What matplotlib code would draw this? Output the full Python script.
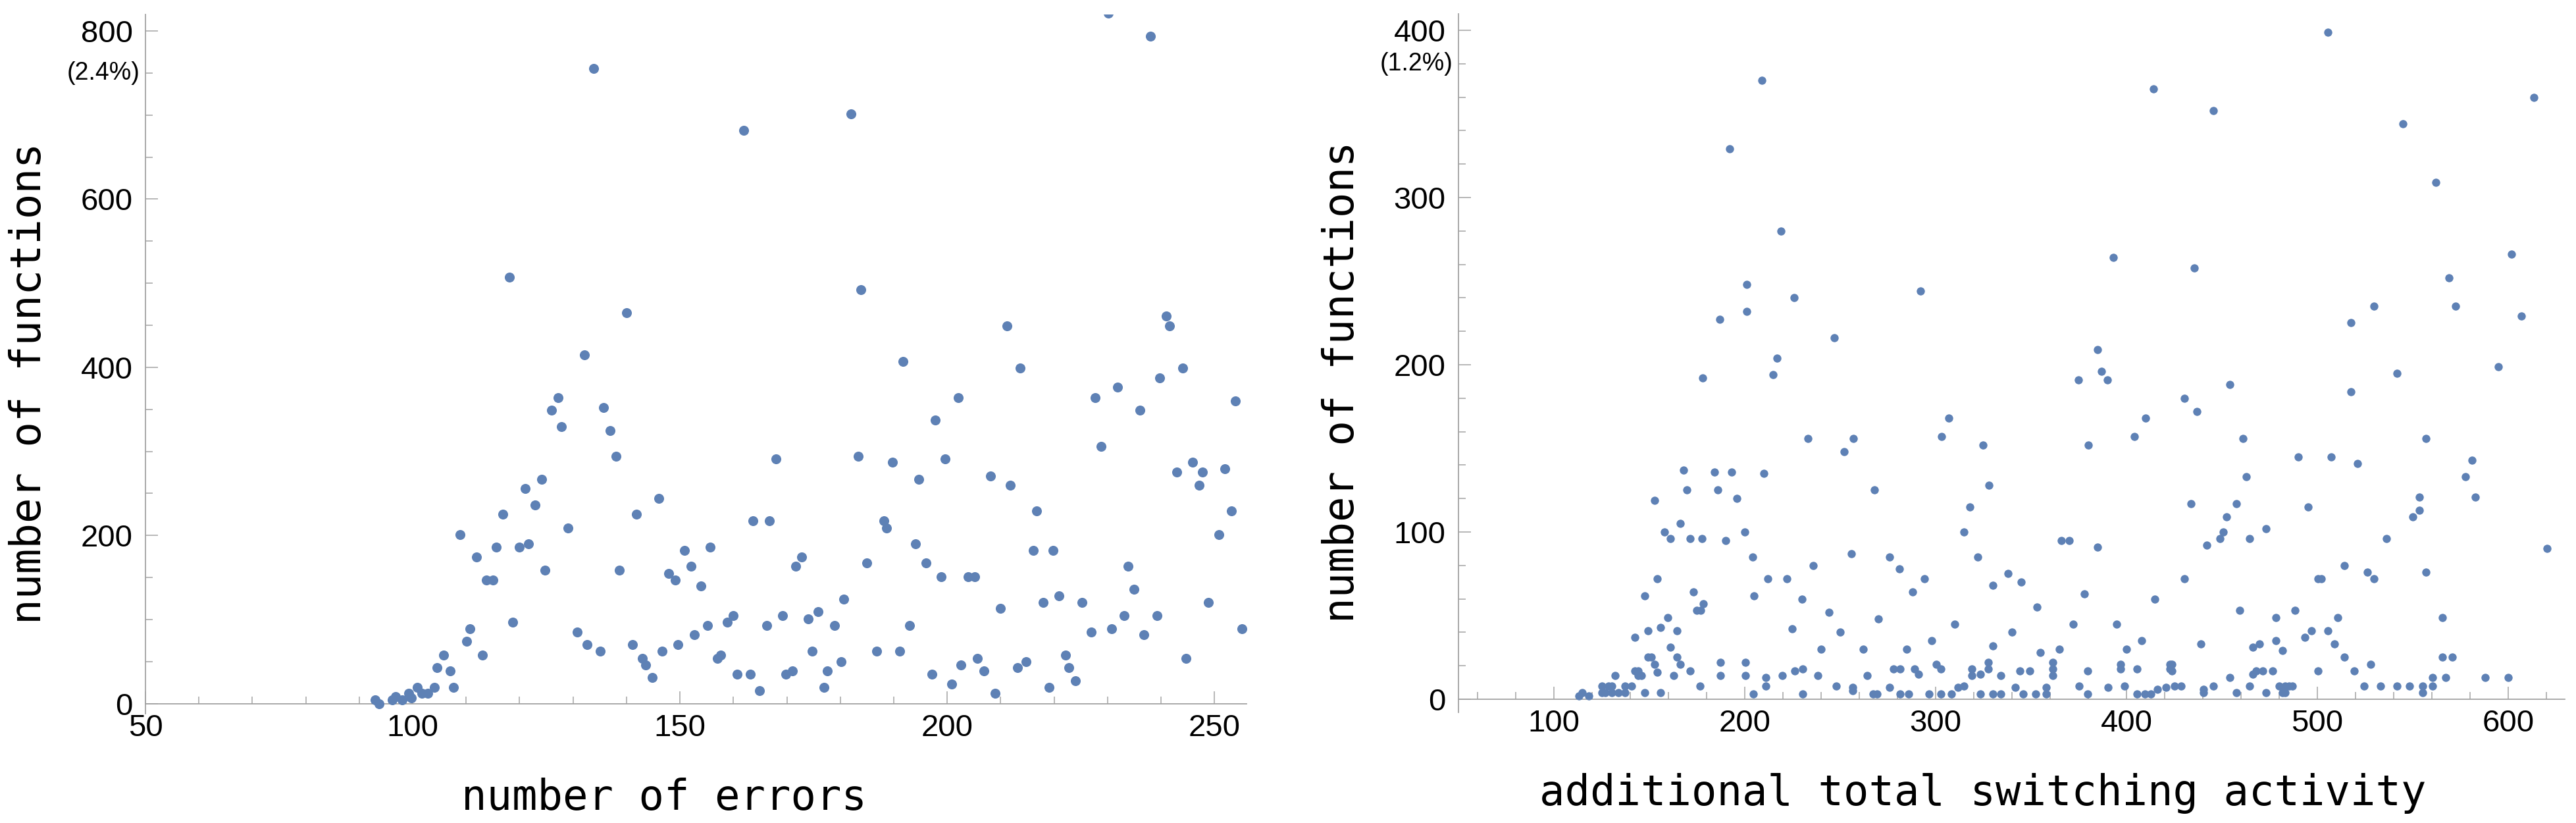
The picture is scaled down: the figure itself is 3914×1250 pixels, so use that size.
import matplotlib
matplotlib.use("Agg")
import matplotlib.pyplot as plt
from matplotlib.ticker import MultipleLocator
from matplotlib.transforms import ScaledTranslation

# ------------------------
# Data
# ------------------------
# left panel: number of errors vs number of functions
err_x = [133.9, 161.9, 182.0, 118.1, 140.0, 132.1, 183.8, 230.2, 238.0, 211.2, 241.0, 241.6, 191.7, 213.7, 244.0,
         239.8, 231.9, 202.1, 227.7, 253.9, 236.1, 197.8, 228.8, 183.3, 189.8, 199.6, 194.7, 208.1, 211.8, 245.9,
         242.9, 247.7, 247.1, 252.0, 216.7, 253.2, 188.1, 188.7, 250.8, 194.1, 216.1, 219.8, 185.0, 196.0, 233.8,
         198.9, 203.9, 205.1, 234.9, 220.9, 217.9, 225.2, 248.9, 210.0, 233.1, 239.2, 192.9, 230.7, 255.1, 227.0,
         236.8, 186.8, 191.1, 222.2, 244.7, 214.8, 205.7, 202.6, 213.1, 222.8, 206.9, 197.2, 224.0, 200.9, 219.1,
         209.0,
         127.2, 126.0, 127.8, 135.7, 136.9, 138.1, 124.1, 121.1, 122.9, 116.9, 129.0, 108.9, 168.0, 146.0, 141.8,
         163.7, 166.7, 115.6, 119.9, 121.7, 111.9, 124.7, 138.7, 150.9, 155.7, 152.1, 147.9, 149.1, 153.9, 113.8,
         115.0, 171.6, 172.8, 180.7, 118.7, 110.7, 110.1, 113.1, 105.8, 104.6, 107.0, 107.6, 104.0, 102.8, 130.8,
         132.6, 135.1, 141.1, 143.0, 143.6, 144.8, 146.6, 149.6, 152.7, 155.2, 157.0, 157.6, 158.8, 160.0, 160.7,
         163.1, 164.9, 166.2, 169.2, 169.8, 171.0, 174.0, 174.7, 175.9, 177.0, 177.6, 178.9, 180.1,
         93.0, 93.7, 96.2, 96.8, 98.0, 99.2, 99.8, 100.9, 101.7]
err_y = [755, 682, 701, 507, 465, 415, 492, 821, 794, 449, 461, 449, 407, 399, 399,
         387, 376, 364, 364, 360, 349, 337, 306, 294, 287, 291, 267, 271, 260, 287,
         275, 275, 260, 279, 229, 229, 217, 209, 201, 190, 182, 182, 167, 167, 163,
         151, 151, 151, 136, 128, 120, 120, 120, 113, 105, 105, 93, 89, 89, 85,
         82, 62, 62, 58, 54, 50, 54, 46, 43, 43, 39, 35, 27, 23, 19,
         12,
         364, 349, 329, 352, 325, 294, 267, 256, 236, 225, 209, 201, 291, 244, 225,
         217, 217, 186, 186, 190, 174, 159, 159, 182, 186, 163, 155, 147, 140, 147,
         147, 163, 174, 124, 97, 89, 74, 58, 58, 43, 39, 19, 19, 12, 85,
         70, 62, 70, 54, 46, 31, 62, 70, 82, 93, 54, 58, 97, 105, 35,
         35, 15, 93, 105, 35, 39, 101, 62, 109, 19, 39, 93, 50,
         4, 0, 4, 8, 4, 12, 7, 19, 12]

# right panel: additional total switching activity vs number of functions
sw_x = [505.6, 445.6, 613.6, 545.0, 562.2, 435.4, 601.6, 569.1, 529.7, 572.4, 606.8, 517.6, 541.7, 594.7, 454.3,
        430.3, 517.6,
        437.0, 461.1, 557.0, 490.2, 507.4, 521.0, 581.0, 462.8, 577.6, 433.7, 457.7, 553.6, 582.7, 495.3,
        553.6, 550.2, 452.4, 473.2, 450.8, 449.0, 464.6, 442.1, 536.4, 620.3, 514.0, 430.3, 500.5, 502.2,
        526.3, 529.7, 557.0, 459.3, 488.4, 478.2, 510.8, 565.5, 497.0, 505.6, 493.6, 438.9, 469.7, 466.2,
        478.2, 509.0, 481.6, 514.0, 565.5, 570.7, 527.9, 423.8, 423.8, 454.3, 466.2, 468.0, 471.3, 476.5,
        500.5, 519.2, 560.4, 567.3, 587.8, 599.9, 425.1, 428.5, 440.5, 440.5, 445.6, 457.7, 464.6, 473.1,
        480.0, 481.6, 483.3, 483.3, 485.1, 486.8, 524.5, 533.0, 541.7, 548.4, 555.3, 555.3, 560.4,
        168.0, 169.8, 152.7, 166.3, 157.8, 161.2, 171.5, 177.5, 154.3, 147.6, 173.2, 159.6, 175.0, 176.9,
        178.3, 149.2, 156.0, 164.6, 142.4, 161.2, 149.2, 150.9, 164.6, 152.7, 166.3, 142.4, 144.1, 171.5,
        144.1, 145.9, 154.3, 132.1, 162.9, 140.7, 176.5, 137.2, 125.3, 128.7, 130.4, 125.3, 127.0, 130.4,
        133.8, 137.2, 147.6, 156.0, 113.2, 114.9, 118.3,
        # middle band, low values
        187.3, 187.3, 200.3, 200.3, 204.6, 211.1, 211.1, 219.7, 226.2, 230.5, 230.5, 238.3, 247.8, 256.4,
        256.4, 264.2, 267.3, 269.4, 275.9, 278.1, 281.5, 281.5, 285.8, 288.9, 291.0, 296.6, 300.5, 302.7,
        302.7, 308.3, 311.8, 314.8, 319.1, 319.1, 323.4, 323.4, 327.7, 327.7, 329.9, 334.2, 334.2, 341.6,
        344.2, 345.9, 349.4, 352.4, 358.0, 358.0, 361.5, 361.5, 361.5, 375.3, 379.6, 379.6, 390.4, 396.9,
        396.9, 399.0, 405.5, 405.5, 409.8, 412.9, 416.3, 420.7, 422.8, 422.8,
        # middle band, higher values
        192, 209, 219, 201, 201, 187, 226, 217, 215, 247, 178, 292, 393, 414, 375, 385, 387, 390, 404, 410,
        307, 303, 325, 233, 257, 252, 328, 380, 184, 186, 193, 196, 200, 204, 210, 212, 222, 236, 244, 256,
        268, 276, 281, 288, 294, 315, 318, 322, 330, 338, 345, 353, 366, 370, 385, 378, 190, 205, 230, 250,
        270, 262, 298, 310, 340, 355, 372, 395, 408, 415, 240, 225, 285, 330, 365, 400]
sw_y = [399, 352, 360, 344, 309, 258, 266, 252, 235, 235, 229, 225, 195, 199, 188,
        180, 184,
        172, 156, 156, 145, 145, 141, 143, 133, 133, 117, 117, 121, 121, 115,
        113, 109, 109, 102, 100, 96, 96, 92, 96, 90, 80, 72, 72, 72,
        76, 72, 76, 53, 53, 49, 49, 49, 41, 41, 37, 33, 33, 31,
        35, 33, 29, 25, 25, 25, 21, 21, 17, 13, 15, 17, 17, 17,
        17, 17, 13, 13, 13, 13, 8, 8, 6, 4, 8, 4, 8, 4,
        8, 4, 8, 4, 8, 8, 8, 8, 8, 8, 8, 4, 8,
        137, 125, 119, 105, 100, 96, 96, 96, 72, 62, 64, 49, 53, 53,
        57, 41, 43, 41, 37, 31, 25, 25, 25, 21, 21, 17, 17, 17,
        14, 14, 16, 14, 14, 8, 8, 8, 8, 8, 8, 4, 4, 4,
        4, 4, 4, 4, 2, 4, 2,
        22, 14, 22, 14, 3, 13, 8, 14, 17, 18, 3, 14, 8, 7,
        5, 14, 3, 3, 7, 18, 18, 3, 3, 18, 15, 3, 21, 18,
        3, 3, 7, 8, 18, 14, 15, 3, 22, 18, 3, 14, 3, 7,
        17, 3, 17, 3, 7, 3, 22, 18, 14, 8, 17, 3, 7, 21,
        18, 8, 18, 3, 3, 3, 6, 7, 21, 18,
        329, 370, 280, 248, 232, 227, 240, 204, 194, 216, 192, 244, 264, 365, 191, 209, 196, 191, 157, 168,
        168, 157, 152, 156, 156, 148, 128, 152, 136, 125, 136, 120, 100, 85, 135, 72, 72, 80, 52, 87,
        125, 85, 78, 64, 72, 100, 115, 85, 68, 75, 70, 55, 95, 95, 91, 63, 95, 62, 60, 40,
        48, 30, 35, 45, 40, 28, 45, 45, 35, 60, 30, 42, 30, 32, 30, 30]

POINT_COLOR = "#5e81b5"
AXIS_COLOR = "#a3a3a3"
TICK_FONT = "Liberation Sans"
LABEL_FONT = "DejaVu Sans Mono"

fig = plt.figure(figsize=(39.14, 12.5), dpi=100)
ax1 = fig.add_axes([0.05646, 0.13288, 0.42744, 0.84992])
ax2 = fig.add_axes([0.56617, 0.13416, 0.42949, 0.84936])


def style_axes(ax, xlim, ylim, xmaj, xmin, ymaj, ymin, pct_value, pct_text):
    ax.set_xlim(*xlim)
    ax.set_ylim(*ylim)
    for side in ["top", "right"]:
        ax.spines[side].set_visible(False)
    ax.spines["bottom"].set_position(("data", 0))
    for side in ["left", "bottom"]:
        ax.spines[side].set_color(AXIS_COLOR)
        ax.spines[side].set_linewidth(1.3)
    ax.xaxis.set_major_locator(MultipleLocator(xmaj))
    ax.xaxis.set_minor_locator(MultipleLocator(xmin))
    ax.yaxis.set_major_locator(MultipleLocator(ymaj))
    ax.yaxis.set_minor_locator(MultipleLocator(ymin))
    ax.tick_params(which="both", direction="in", color=AXIS_COLOR, width=1.1)
    ax.tick_params(which="major", length=13.5)
    ax.tick_params(which="minor", length=8)
    ax.tick_params(axis="x", which="major", pad=11, labelsize=34)
    ax.tick_params(axis="y", which="major", pad=14, labelsize=34)
    # percentage marker next to the top minor tick
    trans = ax.get_yaxis_transform() + ScaledTranslation(-8 / 100, 0, fig.dpi_scale_trans)
    ax.text(0, pct_value, pct_text, transform=trans, ha="right", va="center",
            fontsize=27, fontfamily=TICK_FONT)


# ------------------------
# Left: number of errors
# ------------------------
ax1.scatter(err_x, err_y, s=118, color=POINT_COLOR, linewidths=0, zorder=3)
style_axes(ax1, (50, 256), (-12, 820), 50, 10, 200, 50, 750, "(2.4%)")
ax1.set_xticks([50, 100, 150, 200, 250])

# ------------------------
# Right: additional total switching activity
# ------------------------
ax2.scatter(sw_x, sw_y, s=80, color=POINT_COLOR, linewidths=0, zorder=3)
style_axes(ax2, (50, 629.7), (-8, 410), 100, 20, 100, 20, 380, "(1.2%)")
ax2.set_xticks([100, 200, 300, 400, 500, 600])

for ax in (ax1, ax2):
    for lab in ax.get_xticklabels() + ax.get_yticklabels():
        lab.set_fontfamily(TICK_FONT)

# axis labels
fig.text(0.2578, 1 - 1230 / 1250, "number of errors", ha="center", va="baseline",
         fontsize=46, fontfamily=LABEL_FONT)
fig.text(0.7698, 1 - 1223 / 1250, "additional total switching activity", ha="center", va="baseline",
         fontsize=46, fontfamily=LABEL_FONT)
fig.text(0.01124, 0.5344, "number of functions", rotation=90, ha="center", va="center",
         fontsize=46, fontfamily=LABEL_FONT)
fig.text(0.52095, 0.536, "number of functions", rotation=90, ha="center", va="center",
         fontsize=46, fontfamily=LABEL_FONT)

fig.savefig("out.png", dpi=100, facecolor="white")
